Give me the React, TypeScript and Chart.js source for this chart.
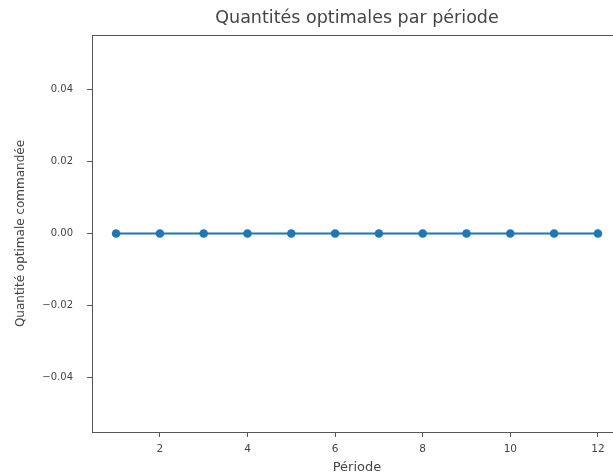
import React, { useEffect, useRef } from "react";
import { Chart, registerables } from "chart.js";

Chart.register(...registerables);

const periods: number[] = [1, 2, 3, 4, 5, 6, 7, 8, 9, 10, 11, 12];
const quantities: number[] = [0, 0, 0, 0, 0, 0, 0, 0, 0, 0, 0, 0];
const xTickValues: number[] = [2, 4, 6, 8, 10, 12];
const yTickValues: number[] = [-0.04, -0.02, 0, 0.02, 0.04];

const TITLE = "Quantités optimales par période";
const X_LABEL = "Période";
const Y_LABEL = "Quantité optimale commandée";

const FONT = "'DejaVu Sans', sans-serif";
const TEXT = "#444";
const AXIS = "#555";

const frame = {
  id: "frame",
  afterDraw(chart: any) {
    const { ctx, chartArea } = chart;
    ctx.save();
    ctx.strokeStyle = AXIS;
    ctx.lineWidth = 1;
    ctx.strokeRect(
      Math.round(chartArea.left) + 0.5,
      Math.round(chartArea.top) + 0.5,
      Math.round(chartArea.right - chartArea.left),
      Math.round(chartArea.bottom - chartArea.top)
    );
    ctx.restore();
  },
};

export default function App() {
  const ref = useRef<HTMLCanvasElement>(null);
  useEffect(() => {
    if (!ref.current) return;
    const chart = new Chart(ref.current, {
      type: "line",
      data: {
        datasets: [
          {
            data: periods.map((p, i) => ({ x: p, y: quantities[i] })),
            borderColor: "#1f77b4",
            backgroundColor: "#1f77b4",
            borderWidth: 1.8,
            pointRadius: 4.3,
            pointBorderWidth: 0,
            pointBackgroundColor: "#1f77b4",
            tension: 0,
          },
        ],
      },
      options: {
        animation: false,
        responsive: false,
        devicePixelRatio: 1,
        layout: { padding: { left: 0, right: 38, top: 0, bottom: 0 } },
        plugins: {
          legend: { display: false },
          tooltip: { enabled: false },
          title: {
            display: true,
            text: TITLE,
            fullSize: false,
            color: TEXT,
            font: { family: FONT, size: 17.5, weight: "normal", lineHeight: 1.2 },
            padding: { top: 7.5, bottom: 6.5 },
          },
        },
        scales: {
          x: {
            type: "linear",
            min: 0.45,
            max: 12.55,
            afterBuildTicks: (s: any) => {
              s.ticks = xTickValues.map((v) => ({ value: v }));
            },
            afterFit: (s: any) => {
              s.height = 44;
            },
            grid: {
              drawOnChartArea: false,
              drawTicks: true,
              tickLength: 5,
              tickColor: AXIS,
            },
            border: { display: true, color: AXIS, width: 1 },
            ticks: {
              color: TEXT,
              padding: 6,
              maxRotation: 0,
              font: { family: FONT, size: 10.5 },
              callback: (v: any) => String(v),
            },
            title: {
              display: true,
              text: X_LABEL,
              color: TEXT,
              font: { family: FONT, size: 13, lineHeight: 1.2 },
              padding: { top: 0, bottom: 1 },
            },
          },
          y: {
            type: "linear",
            min: -0.055,
            max: 0.055,
            afterBuildTicks: (s: any) => {
              s.ticks = yTickValues.map((v) => ({ value: v }));
            },
            afterFit: (s: any) => {
              s.width = 92;
            },
            grid: {
              drawOnChartArea: false,
              drawTicks: true,
              tickLength: 5,
              tickColor: AXIS,
            },
            border: { display: true, color: AXIS, width: 1 },
            ticks: {
              color: TEXT,
              padding: 14,
              font: { family: FONT, size: 10 },
              callback: (v: any) => {
                const n = Number(v);
                const s = Math.abs(n).toFixed(2);
                return n < -1e-9 ? "\u2212" + s : s;
              },
            },
            title: {
              display: true,
              text: Y_LABEL,
              color: TEXT,
              font: { family: FONT, size: 12, lineHeight: 1.2 },
              padding: { top: 14, bottom: 0 },
            },
          },
        },
      },
      plugins: [frame],
    } as any);
    return () => chart.destroy();
  }, []);

  return (
    <div
      style={{
        position: "fixed",
        left: 0,
        top: 0,
        width: 660,
        height: 476,
        background: "#fff",
      }}
    >
      <canvas ref={ref} width={660} height={476} style={{ width: 660, height: 476 }} />
    </div>
  );
}
